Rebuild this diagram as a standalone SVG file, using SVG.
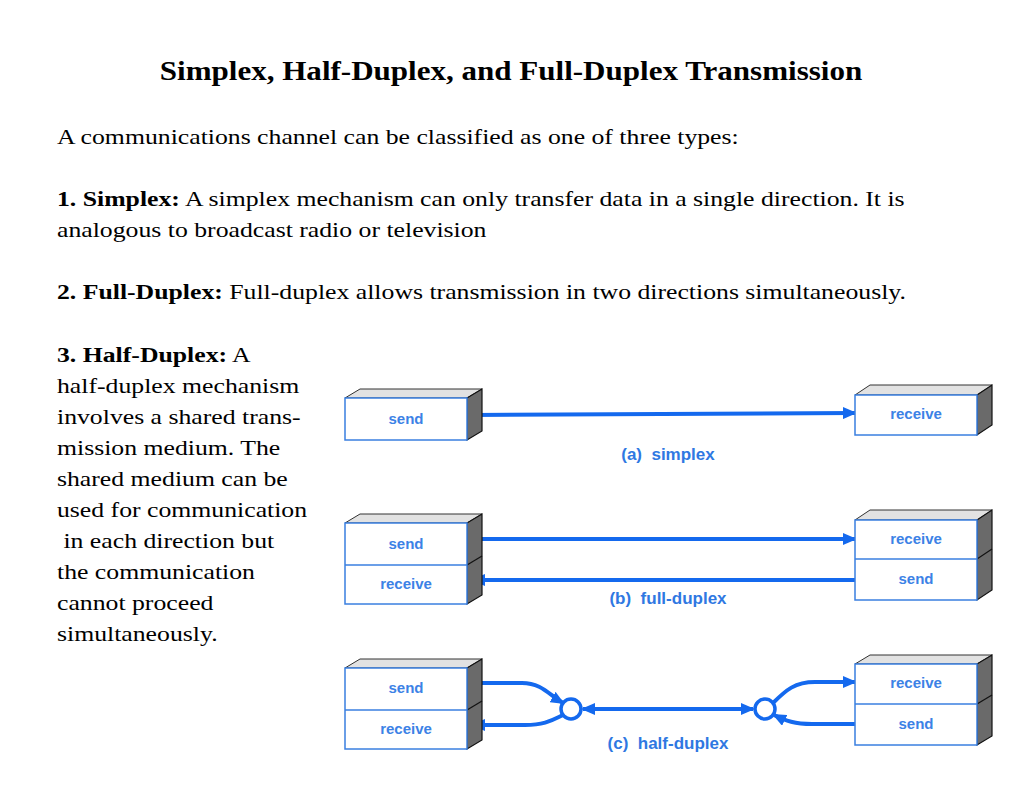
<svg xmlns="http://www.w3.org/2000/svg" width="1024" height="791" viewBox="0 0 1024 791">
<style>
.title{font-family:"Liberation Serif",serif;font-weight:bold;font-size:27px;fill:#000}
.body{font-family:"Liberation Serif",serif;font-size:22px;fill:#000}
.b{font-weight:bold}
.front{fill:#fff;stroke:#3a7fe0;stroke-width:1.5}
.top{fill:#e2e2e2;stroke:#333;stroke-width:1}
.side{fill:#6a6a6a;stroke:#111;stroke-width:1.2}
.lbl{font-family:"Liberation Sans",Arial,sans-serif;font-weight:bold;font-size:15px;fill:#3c82e6;text-anchor:middle}
.cap{font-family:"Liberation Sans",Arial,sans-serif;font-weight:bold;font-size:17px;fill:#2f78e2;text-anchor:middle}
.ln{fill:none;stroke:#1469ee;stroke-width:4}
.circ{fill:#fff;stroke:#1469ee;stroke-width:3.5}
</style>
<defs>
<marker id="ah" markerUnits="userSpaceOnUse" markerWidth="14" markerHeight="12" refX="12" refY="6" orient="auto">
<path d="M0,0 L14,6 L0,12 z" fill="#1469ee"/>
</marker>
<marker id="ahs" markerUnits="userSpaceOnUse" markerWidth="14" markerHeight="12" refX="2" refY="6" orient="auto">
<path d="M14,0 L0,6 L14,12 z" fill="#1469ee"/>
</marker>
</defs>
<rect width="1024" height="791" fill="#fff"/>
<g id="title">
<text class="title" transform="translate(511,0) scale(1.15,1)" x="0" y="80" text-anchor="middle">Simplex, Half-Duplex, and Full-Duplex Transmission</text>
</g>
<g id="text" transform="scale(1.17,1)">
<text class="body" x="48.7" y="144">A communications channel can be classified as one of three types:</text>
<text class="body" x="48.7" y="206"><tspan class="b">1. Simplex:</tspan> A simplex mechanism can only transfer data in a single direction. It is</text>
<text class="body" x="48.7" y="237">analogous to broadcast radio or television</text>
<text class="body" x="48.7" y="299"><tspan class="b">2. Full-Duplex:</tspan> Full-duplex allows transmission in two directions simultaneously.</text>
<text class="body" x="48.7" y="362"><tspan class="b">3. Half-Duplex:</tspan> A</text>
<text class="body" x="48.7" y="393">half-duplex mechanism</text>
<text class="body" x="48.7" y="424">involves a shared trans-</text>
<text class="body" x="48.7" y="455">mission medium. The</text>
<text class="body" x="48.7" y="486">shared medium can be</text>
<text class="body" x="48.7" y="517">used for communication</text>
<text class="body" x="48.7" y="548" xml:space="preserve"> in each direction but</text>
<text class="body" x="48.7" y="579">the communication</text>
<text class="body" x="48.7" y="610">cannot proceed</text>
<text class="body" x="48.7" y="641">simultaneously.</text>
</g>
<g id="connectors">
<path class="ln" d="M473,415 L855,413" marker-end="url(#ah)"/>
<path class="ln" d="M473,539 H855" marker-end="url(#ah)"/>
<path class="ln" d="M855,580 H473" marker-end="url(#ah)"/>
<path class="ln" d="M473,683 H522 C542,683 549,695 563,703" marker-end="url(#ah)"/>
<path class="ln" d="M563,715 C549,722 542,725 525,725 H473" marker-end="url(#ah)"/>
<path class="ln" d="M583,709 H753" marker-start="url(#ahs)" marker-end="url(#ah)"/>
<path class="ln" d="M773,703 C786,690 795,682 815,682 H855" marker-end="url(#ah)"/>
<path class="ln" d="M855,724 H812 C795,724 786,721 774,715" marker-end="url(#ah)"/>
</g>
<g id="circle-left"><circle class="circ" cx="571" cy="709" r="10"/></g>
<g id="circle-right"><circle class="circ" cx="765" cy="709" r="10"/></g>
<g id="a-send">
<path class="top" d="M345,398 L360,389 L482,389 L467,398 Z"/>
<path class="side" d="M467,398 L482,389 L482,431 L467,440 Z"/>
<rect class="front" x="345" y="398" width="122" height="42"/>
<text class="lbl" x="406" y="424">send</text>
</g>
<g id="a-receive">
<path class="top" d="M855,395 L870,385 L992,385 L977,395 Z"/>
<path class="side" d="M977,395 L992,385 L992,425 L977,435 Z"/>
<rect class="front" x="855" y="395" width="122" height="40"/>
<text class="lbl" x="916" y="419">receive</text>
</g>
<g id="b-left">
<path class="top" d="M345,523 L360,514 L482,514 L467,523 Z"/>
<path class="side" d="M467,523 L482,514 L482,595 L467,604 Z"/>
<path class="side" d="M467,565 L482,556" fill="none"/>
<rect class="front" x="345" y="523" width="122" height="81"/>
<line class="front" x1="345" y1="565" x2="467" y2="565"/>
<text class="lbl" x="406" y="549">send</text>
<text class="lbl" x="406" y="589">receive</text>
</g>
<g id="b-right">
<path class="top" d="M855,520 L870,510 L992,510 L977,520 Z"/>
<path class="side" d="M977,520 L992,510 L992,590 L977,600 Z"/>
<path class="side" d="M977,559 L992,549" fill="none"/>
<rect class="front" x="855" y="520" width="122" height="80"/>
<line class="front" x1="855" y1="559" x2="977" y2="559"/>
<text class="lbl" x="916" y="544">receive</text>
<text class="lbl" x="916" y="584">send</text>
</g>
<g id="c-left">
<path class="top" d="M345,668 L360,659 L482,659 L467,668 Z"/>
<path class="side" d="M467,668 L482,659 L482,740 L467,749 Z"/>
<path class="side" d="M467,710 L482,701" fill="none"/>
<rect class="front" x="345" y="668" width="122" height="81"/>
<line class="front" x1="345" y1="710" x2="467" y2="710"/>
<text class="lbl" x="406" y="693">send</text>
<text class="lbl" x="406" y="734">receive</text>
</g>
<g id="c-right">
<path class="top" d="M855,664 L870,655 L992,655 L977,664 Z"/>
<path class="side" d="M977,664 L992,655 L992,736 L977,745 Z"/>
<path class="side" d="M977,704 L992,695" fill="none"/>
<rect class="front" x="855" y="664" width="122" height="81"/>
<line class="front" x1="855" y1="704" x2="977" y2="704"/>
<text class="lbl" x="916" y="688">receive</text>
<text class="lbl" x="916" y="729">send</text>
</g>
<g id="captions">
<text class="cap" x="668" y="460" xml:space="preserve">(a)  simplex</text>
<text class="cap" x="668" y="604" xml:space="preserve">(b)  full-duplex</text>
<text class="cap" x="668" y="749" xml:space="preserve">(c)  half-duplex</text>
</g>
</svg>
